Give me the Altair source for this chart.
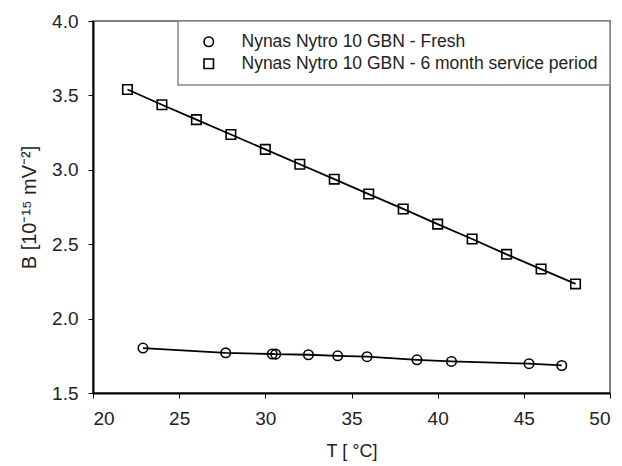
import altair as alt
import pandas as pd

# Series: Fresh (circles)
fresh_T = [22.9, 27.7, 30.4, 30.6, 32.5, 34.2, 35.9, 38.8, 40.8, 45.3, 47.2]
fresh_B = [1.802, 1.770, 1.762, 1.761, 1.757, 1.750, 1.744, 1.723, 1.712, 1.697, 1.685]

# Series: 6 month service period (squares)
aged_T = [22, 24, 26, 28, 30, 32, 34, 36, 38, 40, 42, 44, 46, 48]
aged_B = [3.54, 3.437, 3.337, 3.237, 3.137, 3.037, 2.937, 2.837, 2.737, 2.635, 2.535, 2.432, 2.333, 2.233]

series_names = ["Nynas Nytro 10 GBN - Fresh", "Nynas Nytro 10 GBN - 6 month service period"]
x_ticks = [20, 25, 30, 35, 40, 45, 50]
y_ticks = [1.5, 2.0, 2.5, 3.0, 3.5, 4.0]

df = pd.concat([
    pd.DataFrame({"T": fresh_T, "B": fresh_B, "series": series_names[0]}),
    pd.DataFrame({"T": aged_T, "B": aged_B, "series": series_names[1]}),
])

FONT = "Liberation Sans"

common_axis = dict(domainColor="black", domainWidth=2, tickColor="black", tickWidth=1, tickSize=5,
                   grid=False, labelFont=FONT, labelFontSize=19, labelColor="#222222",
                   titleFont=FONT, titleFontWeight="normal", titleColor="#222222")

x_enc = alt.X("T:Q", scale=alt.Scale(domain=[20, 50], nice=False, zero=False),
              axis=alt.Axis(values=x_ticks, title="T [ °C]", format="d", titleFontSize=18,
                            labelPadding=11, titlePadding=14, **common_axis))
y_enc = alt.Y("B:Q", scale=alt.Scale(domain=[1.5, 4.0], nice=False, zero=False),
              axis=alt.Axis(values=y_ticks, title="B [10⁻¹⁵ mV⁻²]", format=".1f", titleFontSize=20,
                            labelPadding=10, titlePadding=12, **common_axis))

lines = alt.Chart(df).mark_line(color="black", strokeWidth=1.8).encode(
    x=x_enc, y=y_enc, detail="series:N"
)

points = alt.Chart(df).mark_point(filled=False, color="black", strokeWidth=1.6, opacity=1, size=90).encode(
    x=x_enc, y=y_enc,
    shape=alt.Shape("series:N",
                    scale=alt.Scale(domain=series_names, range=["circle", "square"]),
                    legend=alt.Legend(
                        title=None, orient="top-right", offset=0,
                        labelFont=FONT, labelFontSize=17.5, labelColor="#222222", labelLimit=0,
                        padding=12, symbolOffset=10, labelOffset=24, rowPadding=3,
                        strokeColor="#888888", fillColor="white",
                        symbolStrokeColor="black", symbolStrokeWidth=1.6,
                        symbolFillColor="transparent", symbolSize=90,
                    )),
)

chart = (lines + points).properties(
    width=517, height=372,
    autosize=alt.AutoSizeParams(type="none"),
    padding={"left": 85, "top": 13, "right": 4, "bottom": 72},
).configure_view(
    stroke="#555555", strokeWidth=1.5
).configure_legend(
    strokeWidth=1.5
)

chart.save("out.html", embed_options={"renderer": "svg", "actions": False})
